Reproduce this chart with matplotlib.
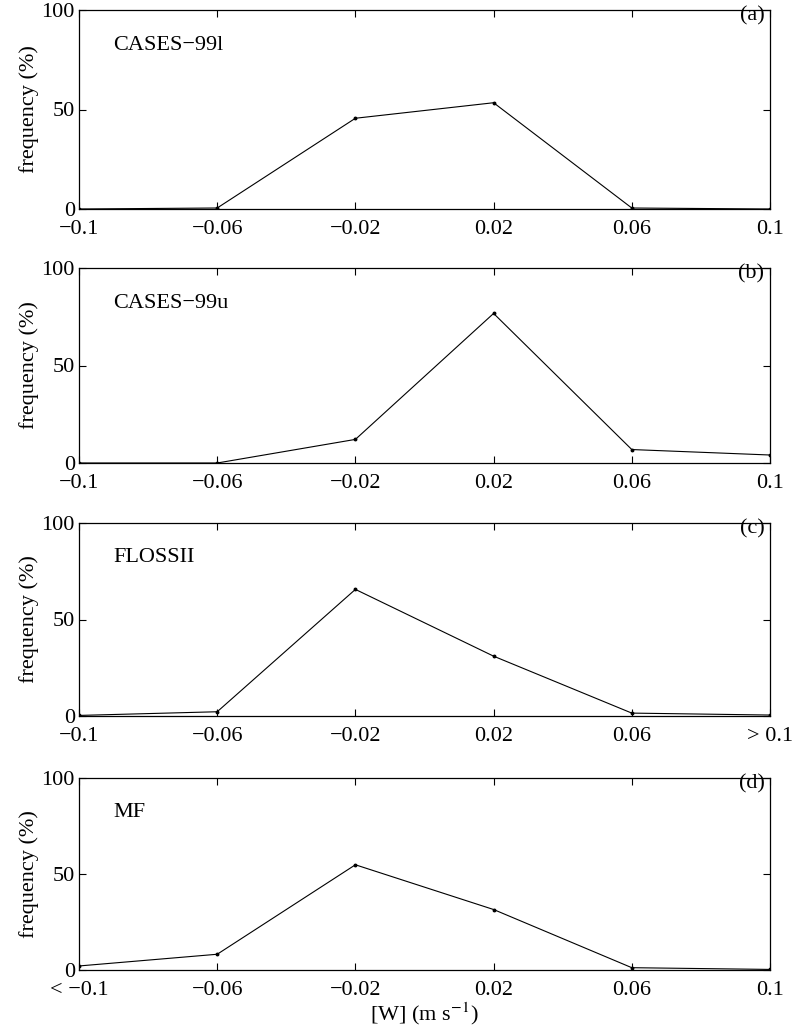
import matplotlib
matplotlib.use("Agg")
import matplotlib.pyplot as plt

plt.rcParams['font.family'] = ['Liberation Serif', 'DejaVu Serif']
plt.rcParams['mathtext.fontset'] = 'stix'
plt.rcParams['axes.unicode_minus'] = True

# bin centres of vertical velocity W (m/s)
w_bins = [-0.1, -0.06, -0.02, 0.02, 0.06, 0.1]

# frequency (%) per site
freq_cases_l = [0.0, 0.5, 45.6, 53.4, 0.5, 0.0]
freq_cases_u = [0.0, 0.0, 12.1, 76.7, 6.9, 4.1]
freq_floss = [0.3, 2.2, 65.6, 31.0, 1.5, 0.5]
freq_mf = [2.1, 8.2, 54.8, 31.5, 1.2, 0.3]

site_names = ['CASES\u221299l', 'CASES\u221299u', 'FLOSSII', 'MF']
panel_tags = ['(a)', '(b)', '(c)', '(d)']

tick_labels_std = ['\u22120.1', '\u22120.06', '\u22120.02', '0.02', '0.06', '0.1']
tick_labels_c = ['\u22120.1', '\u22120.06', '\u22120.02', '0.02', '0.06', '> 0.1']
tick_labels_d = ['< \u22120.1', '\u22120.06', '\u22120.02', '0.02', '0.06', '0.1']

all_freq = [freq_cases_l, freq_cases_u, freq_floss, freq_mf]
all_ticks = [tick_labels_std, tick_labels_std, tick_labels_c, tick_labels_d]

fig = plt.figure(figsize=(8, 10.34), dpi=100)

# axes boxes in pixels (top, bottom) of an 800x1034 canvas
boxes = [(10, 209), (268, 463), (523, 716), (778, 970)]
left, right = 79, 770
W, H = 800, 1034

for i, (top, bot) in enumerate(boxes):
    ax = fig.add_axes([left / W, 1 - bot / H, (right - left) / W, (bot - top) / H])
    ax.plot(w_bins, all_freq[i], color='black', linewidth=0.8,
            marker='o', markersize=1.8)
    ax.set_xlim(-0.1, 0.1)
    ax.set_ylim(0, 100)
    ax.set_xticks(w_bins)
    ax.set_xticklabels(all_ticks[i])
    ax.set_yticks([0, 50, 100])
    ax.tick_params(direction='in', top=True, right=True, labelsize=16,
                   length=5, width=0.8)
    ax.tick_params(axis='x', pad=8)
    ax.tick_params(axis='y', pad=3)
    for s in ax.spines.values():
        s.set_linewidth(0.9)
    ax.set_ylabel('frequency (%)', fontsize=16, labelpad=2)
    ax.text(0.05, 0.82, site_names[i], transform=ax.transAxes, fontsize=16,
            va='center', ha='left')
    ax.text(0.992, 0.97, panel_tags[i], transform=ax.transAxes, fontsize=16,
            va='center', ha='right')
    if i == 3:
        ax.set_xlabel('[W] (m s$^{-1}$)', fontsize=16, labelpad=0)

fig.savefig('out.png', dpi=100)
